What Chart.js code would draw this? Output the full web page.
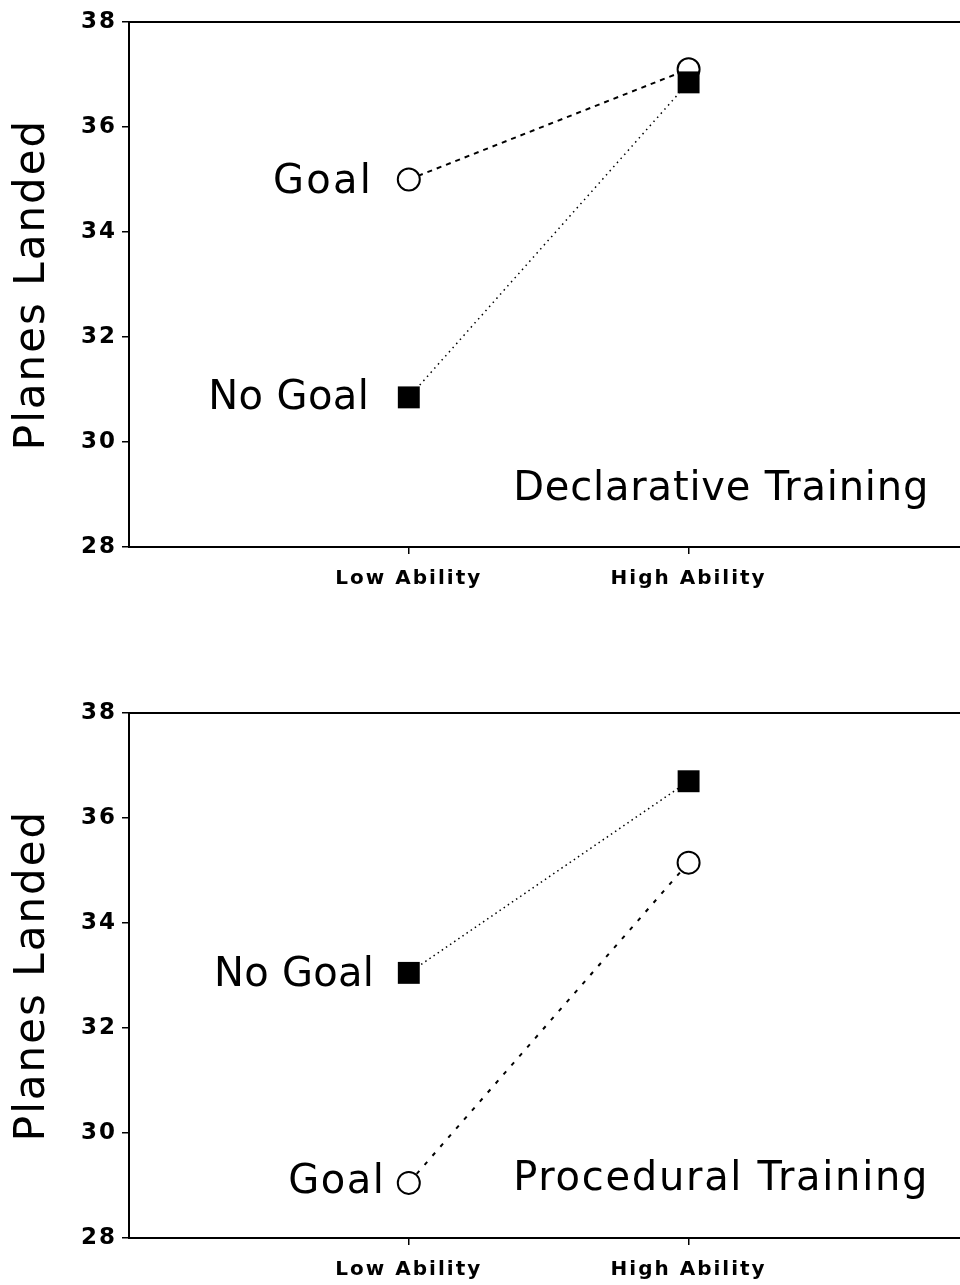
<!DOCTYPE html>
<html>
<head>
<meta charset="utf-8">
<script src="https://cdn.jsdelivr.net/npm/chart.js@4.4.0/dist/chart.umd.min.js"></script>
<style>
  html, body { margin: 0; padding: 0; background: #fff; overflow: hidden; }
  canvas { display: block; }
</style>
</head>
<body>
<canvas id="chartTop" width="960" height="642"></canvas>
<canvas id="chartBottom" width="960" height="643"></canvas>
<script>
const categories = ['Low Ability', 'High Ability'];
const yTicks = [28, 30, 32, 34, 36, 38];
const declGoal = [35.0, 37.1];
const declNoGoal = [30.85, 36.85];
const procGoal = [29.05, 35.15];
const procNoGoal = [33.05, 36.7];

const FONT = "'DejaVu Sans', sans-serif";

function points(values) {
  return values.map((v, i) => ({ x: i + 1, y: v }));
}

// in-plot labels, stretched to the width of the original lettering
const labelPlugin = {
  id: 'labels',
  afterDatasetsDraw(chart, args, opts) {
    const ctx = chart.ctx;
    const xs = chart.scales.x, ys = chart.scales.y;
    ctx.save();
    ctx.fillStyle = '#000';
    ctx.textBaseline = 'middle';
    ctx.textAlign = 'left';
    (opts.items || []).forEach(item => {
      ctx.font = `${item.size}px ${FONT}`;
      ctx.letterSpacing = '0px';
      const w = ctx.measureText(item.text).width;
      const spacing = item.width ? (item.width - w) / item.text.length : 0;
      ctx.letterSpacing = spacing + 'px';
      let x = xs.getPixelForValue(item.x) + (item.dx || 0);
      if (item.align === 'right') x -= w + spacing * (item.text.length - 1);
      const y = ys.getPixelForValue(item.y) + (item.dy || 0);
      ctx.fillText(item.text, x, y);
    });
    ctx.restore();
  }
};

// the original lettering is widely spaced
const spacingPlugin = {
  id: 'spacing',
  beforeDraw(chart) { chart.ctx.letterSpacing = '2px'; },
  afterDraw(chart) { chart.ctx.letterSpacing = '0px'; }
};

function makeChart(id, goal, noGoal, opts) {
  return new Chart(document.getElementById(id), {
    type: 'line',
    data: {
      datasets: [
        {
          label: 'No Goal',
          data: points(noGoal),
          order: 0,
          borderColor: '#000',
          borderWidth: 1.5,
          borderDash: opts.noGoalDash,
          pointStyle: 'rect',
          pointRadius: 15.5,
          pointBackgroundColor: '#000',
          pointBorderColor: '#000',
          pointBorderWidth: 0
        },
        {
          label: 'Goal',
          data: points(goal),
          order: 1,
          borderColor: '#000',
          borderWidth: 2,
          borderDash: opts.goalDash,
          pointStyle: 'circle',
          pointRadius: 11,
          pointBackgroundColor: '#fff',
          pointBorderColor: '#000',
          pointBorderWidth: 2
        }
      ]
    },
    options: {
      responsive: false,
      animation: false,
      devicePixelRatio: 1,
      layout: { autoPadding: false, padding: { top: opts.top, left: 0, right: 0, bottom: 0 } },
      plugins: {
        legend: { display: false },
        tooltip: { enabled: false },
        labels: { items: opts.labels }
      },
      scales: {
        x: {
          type: 'linear',
          position: 'bottom',
          min: 0,
          max: 2.97,
          afterBuildTicks: s => { s.ticks = categories.map((c, i) => ({ value: i + 1 })); },
          afterFit: s => { s.height = opts.xHeight; s.paddingLeft = 0; s.paddingRight = 0; },
          grid: { drawOnChartArea: false, drawTicks: true, tickLength: 7, color: '#000', lineWidth: 1.5 },
          border: { display: true, color: '#000', width: 2 },
          ticks: {
            color: '#000',
            font: { family: FONT, size: 20, weight: 'bold' },
            padding: 13,
            autoSkip: false,
            maxRotation: 0,
            callback: v => categories[v - 1] || ''
          }
        },
        xTop: {
          type: 'linear',
          position: 'top',
          min: 0,
          max: 2.97,
          afterFit: s => { s.height = 0; s.paddingLeft = 0; s.paddingRight = 0; },
          ticks: { display: false },
          grid: { drawOnChartArea: false, drawTicks: false },
          border: { display: true, color: '#000', width: 2 }
        },
        y: {
          min: 28,
          max: 38,
          afterBuildTicks: s => { s.ticks = yTicks.map(v => ({ value: v })); },
          afterFit: s => { s.width = 129; },
          grid: { drawOnChartArea: false, drawTicks: true, tickLength: 7, color: '#000', lineWidth: 1.5 },
          border: { display: true, color: '#000', width: 2 },
          ticks: {
            color: '#000',
            font: { family: FONT, size: 23, weight: 'bold' },
            padding: 5
          },
          title: {
            display: true,
            text: 'Planes Landed',
            color: '#000',
            font: { family: FONT, size: 42, lineHeight: 1 },
            padding: { top: 12, bottom: 0 }
          }
        }
      }
    },
    plugins: [spacingPlugin, labelPlugin]
  });
}

makeChart('chartTop', declGoal, declNoGoal, {
  top: 22,
  xHeight: 95,
  goalDash: [5, 5],
  noGoalDash: [1.5, 4],
  labels: [
    { text: 'Goal', x: 1, y: declGoal[0], dx: -38, dy: 3, align: 'right', size: 40, width: 100 },
    { text: 'No Goal', x: 1, y: declNoGoal[0], dx: -40, dy: 1, align: 'right', size: 40, width: 161 },
    { text: 'Declarative Training', x: 1.373, y: 29.15, dy: 3, align: 'left', size: 40, width: 416 }
  ]
});

makeChart('chartBottom', procGoal, procNoGoal, {
  top: 71,
  xHeight: 47,
  goalDash: [4, 8],
  noGoalDash: [1.5, 3.5],
  labels: [
    { text: 'No Goal', x: 1, y: procNoGoal[0], dx: -35, dy: 3, align: 'right', size: 40, width: 160 },
    { text: 'Goal', x: 1, y: procGoal[0], dx: -25, dy: 0, align: 'right', size: 40, width: 97 },
    { text: 'Procedural Training', x: 1.373, y: 29.16, dy: 3, align: 'left', size: 40, width: 416 }
  ]
});
</script>
</body>
</html>
